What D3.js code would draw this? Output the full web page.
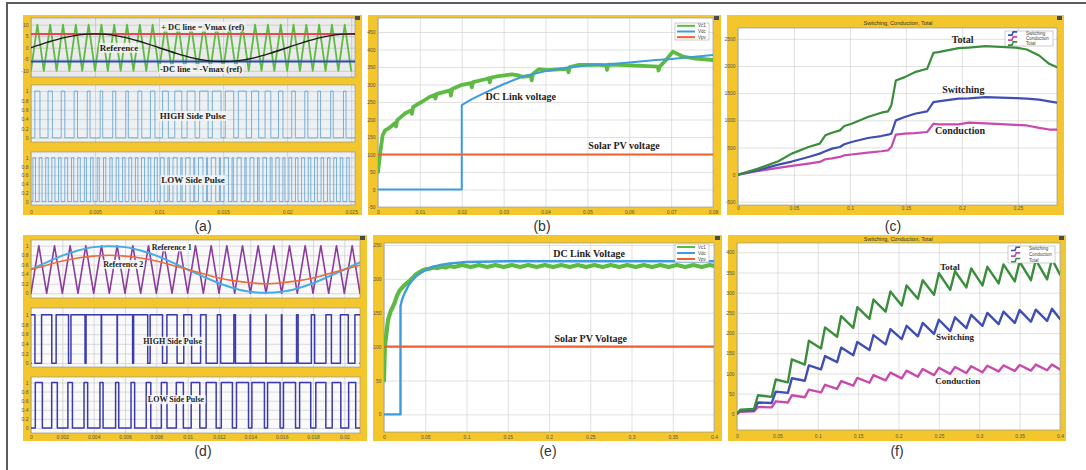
<!DOCTYPE html>
<html>
<head>
<meta charset="utf-8">
<script src="https://cdn.jsdelivr.net/npm/d3@7"></script>
<style>
body { margin: 0; background: #fff; }
svg { display: block; }
.tk text { font-family: "Liberation Sans", Arial, sans-serif; font-size: 5px; fill: #555; }
.ann { font-family: "Liberation Serif", "Times New Roman", serif; font-weight: bold; fill: #1e1e1e; }
.lg { font-family: "Liberation Sans", Arial, sans-serif; font-size: 4.5px; fill: #444; }
</style>
</head>
<body>
<svg id="fig" width="1086" height="470"></svg>
<script>
// ---- (a) unipolar PWM ----
const aXTicks = [0, 0.005, 0.01, 0.015, 0.02, 0.025];
const aYTicks = [-10, -5, 0, 5, 10];
const pulseYTicks = [0, 0.2, 0.4, 0.6, 0.8, 1];
const aCarrier = [
  [0,-10],[0.0005,10],[0.001,-10],[0.0015,10],[0.002,-10],[0.0025,10],[0.003,-10],[0.0035,10],[0.004,-10],[0.0045,10],
  [0.005,-10],[0.0055,10],[0.006,-10],[0.0065,10],[0.007,-10],[0.0075,10],[0.008,-10],[0.0085,10],[0.009,-10],[0.0095,10],
  [0.01,-10],[0.0105,10],[0.011,-10],[0.0115,10],[0.012,-10],[0.0125,10],[0.013,-10],[0.0135,10],[0.014,-10],[0.0145,10],
  [0.015,-10],[0.0155,10],[0.016,-10],[0.0165,10],[0.017,-10],[0.0175,10],[0.018,-10],[0.0185,10],[0.019,-10],[0.0195,10],
  [0.02,-10],[0.0205,10],[0.021,-10],[0.0215,10],[0.022,-10],[0.0225,10],[0.023,-10],[0.0235,10],[0.024,-10],[0.0245,10],
  [0.025,-10]
];
const aRef = [
  [0,0],[0.00125,2.3],[0.0025,4.3],[0.00375,5.6],[0.005,6],[0.00625,5.6],[0.0075,4.3],[0.00875,2.3],
  [0.01,0],[0.01125,-2.3],[0.0125,-4.3],[0.01375,-5.6],[0.015,-6],[0.01625,-5.6],[0.0175,-4.3],[0.01875,-2.3],
  [0.02,0],[0.02125,2.3],[0.0225,4.3],[0.02375,5.6],[0.025,6],[0.02625,5.6]
];
const aDcLevels = [6, -6];
// pulse widths in ms, one per carrier peak (HIGH) and one per carrier half period (LOW)
const aHighWidth = [0.4,0.34,0.28,0.26,0.22,0.2,0.24,0.2,0.3,0.35,
  0.45,0.55,0.62,0.66,0.68,0.66,0.62,0.55,0.45,0.35,
  0.28,0.24,0.22,0.2,0.2];
const aLowWidth = [0.2,0.22,0.2,0.24,0.2,0.22,0.18,0.2,0.16,0.2,0.16,0.18,0.18,0.2,0.2,0.22,0.2,0.24,0.2,0.22,
  0.3,0.12,0.32,0.1,0.34,0.08,0.35,0.08,0.35,0.08,0.34,0.1,0.32,0.1,0.3,0.12,0.28,0.14,0.26,0.16,
  0.22,0.2,0.24,0.2,0.22,0.2,0.2,0.22,0.2,0.2];

// ---- (b) voltages, short run ----
const bXTicks = [0, 0.01, 0.02, 0.03, 0.04, 0.05, 0.06, 0.07, 0.08];
const bYTicks = [-50, 0, 50, 100, 150, 200, 250, 300, 350, 400, 450];
const bVc1 = [
  [0,50],[0.0005,102],[0.0011,155],[0.0017,169],[0.0027,176],[0.0036,185],[0.0041,190],[0.0043,180],[0.0046,198],
  [0.0064,217],[0.0079,226],[0.0081,216],[0.0084,236],[0.0104,250],[0.0124,265],[0.0135,270],[0.0137,260],[0.014,273],
  [0.0152,277],[0.0172,283],[0.0174,268],[0.0177,287],[0.0198,298],[0.0222,304],[0.0224,292],[0.0227,307],[0.0256,315],
  [0.0265,318],[0.0267,306],[0.027,320],[0.0288,324],[0.032,329],[0.0335,326],[0.0344,322],[0.0365,325],[0.0367,312],
  [0.037,330],[0.0384,344],[0.0404,341],[0.0432,343],[0.0453,345],[0.0455,335],[0.0458,350],[0.048,356],[0.0528,356],
  [0.0545,355],[0.0547,342],[0.055,357],[0.0576,356],[0.0632,353],[0.0668,351],[0.067,340],[0.0673,352],[0.0688,370],
  [0.0704,394],[0.0728,380],[0.0752,375],[0.08,370]
];
const bVdc = [[0,0],[0.02,0],[0.02,241],[0.0224,258],[0.0256,277],[0.0298,300],[0.0344,322],[0.0398,338],
  [0.0448,348],[0.05,354],[0.0544,357],[0.06,363],[0.0664,370],[0.07,373],[0.08,384]];
const bVpv = [[0,100],[0.08,100]];

// ---- (c) losses, first inverter ----
const cXTicks = [0, 0.05, 0.1, 0.15, 0.2, 0.25];
const cYTicks = [-500, 0, 500, 1000, 1500, 2000, 2500];
const cTime = [0,0.018,0.036,0.048,0.063,0.073,0.078,0.084,0.091,0.095,0.1015,0.116,0.128,0.134,0.137,0.141,
  0.149,0.158,0.169,0.1725,0.1746,0.179,0.197,0.206,0.221,0.248,0.258,0.269,0.278,0.285];
const cSwitching = [0,80,184,240,325,386,429,478,509,560,600,674,710,735,754,999,
  1060,1121,1164,1270,1336,1350,1400,1405,1428,1409,1400,1380,1350,1324];
const cConduction = [0,67,123,160,202,233,282,300,325,355,370,404,430,447,508,735,
  754,765,784,880,937,925,925,956,945,915,905,860,830,827];
const cTotal = [0,110,245,386,508,570,723,772,815,895,937,1060,1140,1164,1275,1734,
  1795,1887,1949,2132,2243,2255,2328,2340,2365,2340,2304,2194,2040,1979];

// ---- (d) bipolar references ----
const dXTicks = [0, 0.002, 0.004, 0.006, 0.008, 0.01, 0.012, 0.014, 0.016, 0.018, 0.02];
const dCarrier = [
  [0,0],[0.0005,1],[0.001,0],[0.0015,1],[0.002,0],[0.0025,1],[0.003,0],[0.0035,1],[0.004,0],[0.0045,1],
  [0.005,0],[0.0055,1],[0.006,0],[0.0065,1],[0.007,0],[0.0075,1],[0.008,0],[0.0085,1],[0.009,0],[0.0095,1],
  [0.01,0],[0.0105,1],[0.011,0],[0.0115,1],[0.012,0],[0.0125,1],[0.013,0],[0.0135,1],[0.014,0],[0.0145,1],
  [0.015,0],[0.0155,1],[0.016,0],[0.0165,1],[0.017,0],[0.0175,1],[0.018,0],[0.0185,1],[0.019,0],[0.0195,1],
  [0.02,0],[0.0205,1],[0.021,0]
];
const dRefTime = [0,0.001,0.002,0.003,0.004,0.005,0.006,0.007,0.008,0.009,0.01,
  0.011,0.012,0.013,0.014,0.015,0.016,0.017,0.018,0.019,0.02,0.021];
const dRef1 = [0.5,0.65,0.79,0.9,0.97,0.99,0.97,0.9,0.79,0.65,0.5,0.35,0.21,0.1,0.03,0.01,0.03,0.1,0.21,0.35,0.5,0.65];
const dRef2 = [0.5,0.59,0.68,0.74,0.78,0.8,0.78,0.74,0.68,0.59,0.5,0.41,0.32,0.26,0.22,0.2,0.22,0.26,0.32,0.41,0.5,0.59];
const dHighWidth = [0.5,0.65,0.79,0.9,0.97,0.99,0.97,0.9,0.79,0.65,0.5,0.35,0.21,0.1,0.03,0.01,0.03,0.1,0.21,0.35,0.5,0.65];
const dLowWidth = [0.45,0.36,0.29,0.23,0.2,0.2,0.23,0.29,0.36,0.45,0.55,0.64,0.71,0.77,0.8,0.8,0.77,0.71,0.64,0.55,0.45];

// ---- (e) voltages, long run ----
const eXTicks = [0, 0.05, 0.1, 0.15, 0.2, 0.25, 0.3, 0.35, 0.4];
const eYTicks = [0, 50, 100, 150, 200, 250];
const eVc1 = [
  [0,50],[0.001,100],[0.003,120],[0.005,140],[0.008,152],[0.01,157],[0.013,165],[0.016,176],[0.019,183],
  [0.022,187],[0.025,191],[0.028,194],[0.031,197],[0.035,202],[0.038,206],[0.042,209],[0.046,212],[0.05,214],
  [0.055,215],[0.06,217],[0.065,216],[0.07,218],[0.075,217],[0.08,219],[0.085,217.5],[0.095,220.5],[0.105,217.5],
  [0.115,220.5],[0.125,217.5],[0.135,220.5],[0.145,217.5],[0.155,220.5],[0.165,217.5],[0.175,220.5],[0.185,217.5],
  [0.195,220.5],[0.205,217.5],[0.215,220.5],[0.225,217.5],[0.235,220.5],[0.245,217.5],[0.255,220.5],[0.265,217.5],
  [0.275,220.5],[0.285,217.5],[0.295,220.5],[0.305,217.5],[0.315,220.5],[0.325,217.5],[0.335,220.5],[0.345,217.5],
  [0.355,220.5],[0.365,217.5],[0.375,220.5],[0.385,217.5],[0.395,220.5],[0.4,219]
];
const eVdc = [[0,0],[0.02,0],[0.02,160],[0.022,170],[0.025,179],[0.03,191],[0.035,199],[0.04,205],[0.05,213],
  [0.06,218],[0.07,221],[0.08,223],[0.1,225],[0.15,226],[0.4,226]];
const eVpv = [[0,100],[0.4,100]];

// ---- (f) losses, second inverter ----
const fXTicks = [0, 0.05, 0.1, 0.15, 0.2, 0.25, 0.3, 0.35, 0.4];
const fYTicks = [0, 50, 100, 150, 200, 250, 300, 350, 400];
const fTime = [0,0.004,0.021,0.026,0.043,0.048,0.063,0.068,0.084,0.089,0.104,0.109,0.124,0.129,0.144,0.149,
  0.164,0.169,0.184,0.19,0.204,0.21,0.224,0.23,0.244,0.25,0.264,0.27,0.284,0.29,0.304,0.31,0.324,0.33,
  0.344,0.35,0.364,0.37,0.384,0.39,0.4];
const fSwitching = [0,8,9,28,27,55,52,88,82,120,110,143,128,164,145,178,158,195,172,210,185,218,192,225,
  198,233,205,239,212,245,218,250,222,253,225,257,228,258,230,260,235];
const fConduction = [0,5,6,17,16,31,28,46,41,60,53,72,62,81,70,89,77,96,83,102,88,107,92,111,
  96,114,99,116,101,118,103,119,105,120,106,121,107,122,108,122,110];
const fTotal = [0,10,12,46,42,85,78,135,122,181,162,214,191,242,213,264,235,283,253,303,268,318,285,331,
  295,348,307,353,313,360,318,364,323,370,328,377,331,381,333,383,345];

const YELLOW = "#f2c62c";
const GREEN = "#5dbb43", BLUE = "#3d9ce0", ORANGE = "#f0602d";
const SW = "#3f4fb6", CD = "#c84aac", TT = "#3a8d3a";

const svg = d3.select("#fig");
const defs = svg.append("defs");
let clipN = 0;

// outer figure border
svg.append("path").attr("d", "M7,470V3H1086").attr("fill", "none")
  .attr("stroke", "#5c5c5c").attr("stroke-width", 2);

function frame(b) {
  svg.append("rect").attr("x", b[0]).attr("y", b[1]).attr("width", b[2] - b[0]).attr("height", b[3] - b[1])
    .attr("fill", YELLOW);
  svg.append("rect").attr("x", b[2] - 7).attr("y", b[1] + 1).attr("width", 5).attr("height", 4)
    .attr("fill", "#4a4a4a");
}

function makePlot(box, xDom, yDom, xTicks, yTicks, opt) {
  const [x0, y0, x1, y1] = box;
  const x = d3.scaleLinear().domain(xDom).range([x0, x1]);
  const y = d3.scaleLinear().domain(yDom).range([y1, y0]);
  svg.append("rect").attr("x", x0).attr("y", y0).attr("width", x1 - x0).attr("height", y1 - y0)
    .attr("fill", opt.bg || "#fff");
  const gx = svg.append("g").attr("transform", `translate(0,${y1})`)
    .call(d3.axisBottom(x).tickValues(xTicks).tickSize(-(y1 - y0)).tickFormat(""));
  const gy = svg.append("g").attr("transform", `translate(${x0},0)`)
    .call(d3.axisLeft(y).tickValues(yTicks).tickSize(-(x1 - x0)).tickFormat(""));
  [gx, gy].forEach(g => {
    g.select(".domain").remove();
    g.selectAll("line").attr("stroke", opt.grid || "#cdcdcd").attr("stroke-width", 0.6);
  });
  if (opt.xLabels !== false) {
    svg.append("g").attr("class", "tk").attr("transform", `translate(0,${y1})`)
      .call(d3.axisBottom(x).tickValues(xTicks).tickSize(0).tickPadding(opt.xPad || 3).tickFormat(d => String(d)))
      .select(".domain").remove();
  }
  svg.append("g").attr("class", "tk").attr("transform", `translate(${x0},0)`)
    .call(d3.axisLeft(y).tickValues(yTicks).tickSize(0).tickPadding(2.5).tickFormat(d => String(d)))
    .select(".domain").remove();
  svg.append("rect").attr("x", x0).attr("y", y0).attr("width", x1 - x0).attr("height", y1 - y0)
    .attr("fill", "none").attr("stroke", "#8a8a8a").attr("stroke-width", 0.6);
  const id = "clip" + (clipN++);
  defs.append("clipPath").attr("id", id).append("rect")
    .attr("x", x0).attr("y", y0).attr("width", x1 - x0).attr("height", y1 - y0);
  const g = svg.append("g").attr("clip-path", `url(#${id})`);
  return { x, y, g };
}

function drawLine(p, pts, color, width, curve) {
  const line = d3.line().x(d => p.x(d[0])).y(d => p.y(d[1])).curve(curve || d3.curveLinear);
  p.g.append("path").datum(pts).attr("d", line).attr("fill", "none")
    .attr("stroke", color).attr("stroke-width", width)
    .attr("stroke-linejoin", "round").attr("stroke-linecap", "round");
}

// step path from [start, end] intervals
function pulseTrain(intervals, xDom) {
  const pts = [[xDom[0], 0]];
  intervals.forEach(([s, e]) => { pts.push([s, 0], [s, 1], [e, 1], [e, 0]); });
  pts.push([xDom[1], 0]);
  return pts;
}

function note(text, cx, cy, size, bg) {
  const t = svg.append("text").attr("class", "ann").attr("x", cx).attr("y", cy)
    .attr("dy", "0.35em").attr("text-anchor", "middle").attr("font-size", size).text(text);
  if (bg) {
    const bb = t.node().getBBox();
    svg.insert("rect", () => t.node())
      .attr("x", bb.x - 1).attr("y", bb.y).attr("width", bb.width + 2).attr("height", bb.height)
      .attr("fill", bg).attr("opacity", 0.85);
  }
}

function legend(box, items, stair) {
  const [x0, y0, x1, y1] = box;
  svg.append("rect").attr("x", x0).attr("y", y0).attr("width", x1 - x0).attr("height", y1 - y0)
    .attr("fill", "#fff").attr("stroke", "#9a9a9a").attr("stroke-width", 0.5);
  const row = (y1 - y0) / items.length;
  items.forEach((it, i) => {
    const yy = y0 + row * (i + 0.5);
    if (stair) {
      svg.append("path").attr("d", `M${x0 + 3},${yy + 1.6}h4l1.2,-3.2h4`).attr("fill", "none")
        .attr("stroke", it.color).attr("stroke-width", 1.6);
      svg.append("text").attr("class", "lg").attr("x", x0 + 21).attr("y", yy).attr("dy", "0.35em")
        .attr("font-size", 4).text(it.name);
    } else {
      svg.append("line").attr("x1", x0 + 2).attr("x2", x0 + 20).attr("y1", yy).attr("y2", yy)
        .attr("stroke", it.color).attr("stroke-width", 2);
      svg.append("text").attr("class", "lg").attr("x", x0 + 23).attr("y", yy).attr("dy", "0.35em").text(it.name);
    }
  });
}

function title(text, cx, cy) {
  svg.append("text").attr("x", cx).attr("y", cy).attr("dy", "0.35em").attr("text-anchor", "middle")
    .attr("font-family", "Liberation Sans, Arial, sans-serif").attr("font-size", 5.5).attr("fill", "#333").text(text);
}

function caption(text, cx, cy) {
  svg.append("text").attr("x", cx).attr("y", cy).attr("dy", "0.35em").attr("text-anchor", "middle")
    .attr("font-family", "Liberation Sans, Arial, sans-serif").attr("font-size", 14).attr("fill", "#333").text(text);
}

// ================= (a) =================
frame([23, 15, 362, 215]);
const aDom = [0, 0.0253];
const a1 = makePlot([31, 18, 355, 77], aDom, [-12.7, 12.9], aXTicks, aYTicks, { bg: "#ebebeb", grid: "#b9b9b9", xLabels: false });
drawLine(a1, aCarrier, GREEN, 1.8);
drawLine(a1, aDom.map(t => [t, aDcLevels[0]]), "#e5484d", 2);
drawLine(a1, aDom.map(t => [t, aDcLevels[1]]), "#2d49b8", 2);
drawLine(a1, aRef, "#1a1a1a", 1.4, d3.curveMonotoneX);
const a2 = makePlot([31, 85, 355, 142], aDom, [-0.09, 1.13], aXTicks, pulseYTicks, { bg: "#eef1f3", grid: "#bfc3c6", xLabels: false });
const aPeaks = aCarrier.filter(d => d[1] > 0).map(d => d[0]);
drawLine(a2, pulseTrain(aPeaks.map((c, i) => [c - aHighWidth[i] / 2000, c + aHighWidth[i] / 2000]), aDom), "#5a9ed2", 0.8);
const a3 = makePlot([31, 152, 355, 205], aDom, [-0.08, 1.13], aXTicks, pulseYTicks, { bg: "#eef1f3", grid: "#bfc3c6", xPad: 5 });
const aMids = aCarrier.slice(1).map((d, i) => (d[0] + aCarrier[i][0]) / 2);
drawLine(a3, pulseTrain(aMids.map((c, i) => [c - aLowWidth[i] / 2000, c + aLowWidth[i] / 2000]), aDom), "#5a9ed2", 0.8);
note("+ DC line = Vmax (ref)", 202.7, 26.7, 8.5, "#f4f4f4");
note("Reference", 119, 47.7, 9, "#f4f4f4");
note("-DC line = -Vmax (ref)", 201, 69, 8.5, "#f4f4f4");
note("HIGH Side Pulse", 192.7, 115.7, 9, "#f4f6f7");
note("LOW Side Pulse", 193, 180, 9, "#f4f6f7");
caption("(a)", 203, 226);

// ================= (b) =================
frame([368, 15, 721, 215]);
const b = makePlot([378, 18, 713, 207], [0, 0.08], [-50, 490], bXTicks, bYTicks, { xPad: 3.5 });
drawLine(b, bVc1, GREEN, 3.8);
drawLine(b, bVdc, BLUE, 2);
drawLine(b, bVpv, ORANGE, 2.2);
legend([675, 23, 709, 40], [{ name: "Vc1", color: GREEN }, { name: "Vdc", color: BLUE }, { name: "Vpv", color: ORANGE }]);
note("DC Link voltage", 520.7, 96.7, 10);
note("Solar PV voltage", 624, 145, 10);
caption("(b)", 542, 226);

// ================= (c) =================
frame([727, 15, 1064, 215]);
title("Switching, Conduction, Total", 898, 23);
const c = makePlot([738, 28, 1057, 205], [0, 0.285], [-560, 2700], cXTicks, cYTicks, { xPad: 1 });
drawLine(c, cTime.map((t, i) => [t, cConduction[i]]), CD, 2.2);
drawLine(c, cTime.map((t, i) => [t, cSwitching[i]]), SW, 2.2);
drawLine(c, cTime.map((t, i) => [t, cTotal[i]]), TT, 2.2);
legend([1005, 31, 1053, 46], [{ name: "Switching", color: SW }, { name: "Conduction", color: CD }, { name: "Total", color: TT }], true);
note("Total", 962.7, 39.3, 10);
note("Switching", 963.3, 89, 10);
note("Conduction", 960, 130.7, 10);
caption("(c)", 893, 226);

// ================= (d) =================
frame([23, 235, 367, 441]);
const dDom = [0, 0.021];
const d1 = makePlot([31, 240, 360, 298], dDom, [-0.1, 1.12], dXTicks, pulseYTicks, { bg: "#fafafa", grid: "#c4c4c4", xLabels: false });
drawLine(d1, dCarrier, "#8c3c9f", 1.6);
drawLine(d1, dRefTime.map((t, i) => [t, dRef1[i]]), "#46ade5", 2, d3.curveMonotoneX);
drawLine(d1, dRefTime.map((t, i) => [t, dRef2[i]]), "#ee6b3b", 1.6, d3.curveMonotoneX);
const d2 = makePlot([31, 308, 360, 367], dDom, [-0.08, 1.14], dXTicks, pulseYTicks, { bg: "#fafafa", grid: "#c4c4c4", xLabels: false });
const dTroughs = dCarrier.filter(d => d[1] === 0).map(d => d[0]);
drawLine(d2, pulseTrain(dTroughs.map((c, i) => [c - dHighWidth[i] / 2000, c + dHighWidth[i] / 2000]), dDom), "#3b3bae", 1.5);
const d3p = makePlot([31, 377, 360, 433], dDom, [-0.11, 1.12], dXTicks, pulseYTicks, { bg: "#fafafa", grid: "#c4c4c4", xPad: 2 });
const dPeaks = dCarrier.filter(d => d[1] === 1).map(d => d[0]);
drawLine(d3p, pulseTrain(dPeaks.map((c, i) => [c - dLowWidth[i] / 2000, c + dLowWidth[i] / 2000]), dDom), "#3b3bae", 1.5);
note("Reference 1", 171.7, 246.7, 8, "#fafafa");
note("Reference 2", 123.3, 264, 8, "#fafafa");
note("HIGH Side Pulse", 172.7, 341, 8, "#fafafa");
note("LOW Side Pulse", 176, 399.3, 8, "#fafafa");
caption("(d)", 203, 451);

// ================= (e) =================
frame([373, 235, 722, 441]);
const e = makePlot([384, 243, 714, 432], [0, 0.4], [-26, 253], eXTicks, eYTicks, { xPad: 3 });
drawLine(e, eVc1, GREEN, 4.2);
drawLine(e, eVdc, BLUE, 2.4);
drawLine(e, eVpv, ORANGE, 2.4);
legend([675, 244, 709, 262], [{ name: "Vc1", color: GREEN }, { name: "Vdc", color: BLUE }, { name: "Vpv", color: ORANGE }]);
note("DC Link Voltage", 589, 253.3, 10);
note("Solar PV Voltage", 590.7, 338.3, 10);
caption("(e)", 548, 451);

// ================= (f) =================
frame([728, 235, 1066, 441]);
title("Switching, Conduction, Total", 898.3, 238.8);
const f = makePlot([737, 243, 1060, 430], [0, 0.4], [-40, 423], fXTicks, fYTicks, { xPad: 4 });
drawLine(f, fTime.map((t, i) => [t, fConduction[i]]), CD, 2.4);
drawLine(f, fTime.map((t, i) => [t, fSwitching[i]]), SW, 2.4);
drawLine(f, fTime.map((t, i) => [t, fTotal[i]]), TT, 2.4);
legend([1008, 246, 1055, 263], [{ name: "Switching", color: SW }, { name: "Conduction", color: CD }, { name: "Total", color: TT }], true);
note("Total", 950, 266.7, 9);
note("Switching", 955, 336.7, 9);
note("Conduction", 957.7, 380.7, 9);
caption("(f)", 897, 451);
</script>
</body>
</html>
